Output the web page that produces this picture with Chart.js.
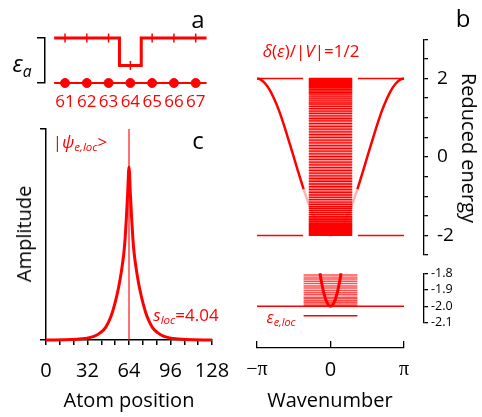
<!DOCTYPE html>
<html>
<head>
<meta charset="utf-8">
<script src="https://cdn.jsdelivr.net/npm/chart.js@4.4.0/dist/chart.umd.min.js"></script>
<style>
  html, body { margin: 0; padding: 0; background: #fff; }
  #fig { position: relative; width: 482px; height: 417px; overflow: hidden; font-family: 'Open Sans', sans-serif; }
  #fig canvas { position: absolute; }
  .lbl { position: absolute; transform: translate(-50%, -50%); white-space: nowrap; line-height: 1; color: #000; }
  .red { color: #f00; }
  .sub { font-size: 0.68em; position: relative; top: 0.3em; }
</style>
</head>
<body>
<div id="fig">
  <canvas id="ca" width="215" height="115" style="left:0;top:0"></canvas>
  <canvas id="cc" width="260" height="307" style="left:0;top:110px"></canvas>
  <canvas id="cb" width="242" height="280" style="left:240px;top:0"></canvas>
  <canvas id="cbi" width="242" height="80" style="left:240px;top:255px"></canvas>
  <canvas id="cbx" width="252" height="87" style="left:230px;top:330px"></canvas>

  <div class="lbl" style="left:198px;top:19px;font-size:24px">a</div>
  <div class="lbl" style="left:463px;top:18px;font-size:24px">b</div>
  <div class="lbl" style="left:198px;top:140px;font-size:24px">c</div>

  <div class="lbl" style="left:22px;top:63px;font-size:23px"><i>ε</i><i class="sub">a</i></div>
  <div class="lbl red" style="left:80px;top:141px;font-size:17px">|<i>ψ</i><i class="sub">e,loc</i>&gt;</div>
  <div class="lbl red" style="left:186px;top:314px;font-size:17px"><i>s</i><i class="sub">loc</i>=4.04</div>
  <div class="lbl red" style="left:311px;top:50px;font-size:17px"><i>δ</i>(<i>ε</i>)/|<i>V</i>|=1/2</div>
  <div class="lbl red" style="left:281px;top:317px;font-size:16px"><i>ε</i><i class="sub">e,loc</i></div>

  <div class="lbl" style="left:24px;top:234px;font-size:20px;transform:translate(-50%,-50%) rotate(-90deg)">Amplitude</div>
  <div class="lbl" style="left:129px;top:400px;font-size:20px">Atom position</div>
  <div class="lbl" style="left:469px;top:148px;font-size:20px;transform:translate(-50%,-50%) rotate(90deg)">Reduced energy</div>
  <div class="lbl" style="left:330px;top:400px;font-size:20px">Wavenumber</div>
</div>

<script>
// ---- panel a : site energies around the impurity
const sites = [61, 62, 63, 64, 65, 66, 67];
const siteEnergy = [1, 1, 1, 0.39, 1, 1, 1];

// ---- panel c : localized state amplitude
const atomPos   = [0, 20, 30, 37, 42, 46, 50, 53, 56, 58, 60, 61, 62, 63, 64, 65, 66, 67, 68, 70, 72, 75, 78, 82, 86, 91, 98, 108, 128];
const amplitude = [0, 0.002, 0.007, 0.017, 0.035, 0.06, 0.11, 0.17, 0.25, 0.32, 0.41, 0.48, 0.58, 0.70, 0.82, 0.70, 0.58, 0.48, 0.41, 0.32, 0.25, 0.17, 0.11, 0.06, 0.035, 0.017, 0.007, 0.002, 0];
const impuritySite = 64;
const atomLabels = [0, 32, 64, 96, 128];
const atomMinorStep = 32 / 3;

// ---- panel b : band dispersion and eigenvalue levels
const kBand = [-3.14, -3.0, -2.8, -2.6, -2.4, -2.2, -2.0, -1.8, -1.6, -1.4, -1.15, -1.0, -0.8, -0.6, -0.4, -0.2, 0,
               0.2, 0.4, 0.6, 0.8, 1.0, 1.15, 1.4, 1.6, 1.8, 2.0, 2.2, 2.4, 2.6, 2.8, 3.0, 3.14];
const eBand = [2.00, 1.98, 1.88, 1.71, 1.47, 1.18, 0.83, 0.45, 0.06, -0.34, -0.82, -1.08, -1.39, -1.65, -1.84, -1.96, -2.00,
               -1.96, -1.84, -1.65, -1.39, -1.08, -0.82, -0.34, 0.06, 0.45, 0.83, 1.18, 1.47, 1.71, 1.88, 1.98, 2.00];
const levelsMain = [2.00, 1.99, 1.98, 1.97, 1.96, 1.94, 1.92, 1.90, 1.88, 1.85, 1.82, 1.79, 1.76, 1.72, 1.68, 1.64,
  1.60, 1.55, 1.50, 1.45, 1.40, 1.35, 1.29, 1.23, 1.17, 1.11, 1.05, 0.98, 0.92, 0.85, 0.78, 0.71, 0.64, 0.57,
  0.50, 0.43, 0.36, 0.29, 0.22, 0.15, 0.08, 0.01, -0.06, -0.13, -0.20, -0.27, -0.34, -0.41, -0.48, -0.55, -0.62,
  -0.69, -0.76, -0.83, -0.90, -0.97, -1.03, -1.09, -1.15, -1.21, -1.27, -1.32, -1.37, -1.42, -1.47, -1.52, -1.56,
  -1.60, -1.64, -1.68, -1.71, -1.74, -1.77, -1.80, -1.83, -1.86, -1.88, -1.90, -1.92, -1.94, -1.96, -1.97, -1.98,
  -1.99, -2.00];
const levelsInset = [-1.81, -1.823, -1.835, -1.848, -1.862, -1.877, -1.889, -1.904, -1.918, -1.93, -1.945,
  -1.955, -1.966, -1.976, -1.986, -1.997];
const kPar = [-0.45, -0.4, -0.3, -0.2, -0.1, 0, 0.1, 0.2, 0.3, 0.4, 0.45];
const ePar = [-1.80, -1.842, -1.911, -1.960, -1.990, -2.0, -1.990, -1.960, -1.911, -1.842, -1.80];
const kRect = 0.93;        // half width (in k) of the level stack, main panel
const kRectInset = 1.15;   // half width of the level stack, inset
const kEdgeGap = 1.17;     // band-edge lines stop here
const bandEdges = [2, -2];
const eLoc = -2.058;
const energyTicks = [-2.5, -2, -1.5, -1, -0.5, 0, 0.5, 1, 1.5, 2, 2.5, 3];
const energyLabels = [-2, 0, 2];
const insetTicks = [-2.1, -2.0, -1.9, -1.8];
const kTicks = [-Math.PI, 0, Math.PI];
const kTickLabels = ['\u2212\u03c0', '0', '\u03c0'];

const RED = '#ff0000';

Chart.defaults.font.family = "'Open Sans', sans-serif";
Chart.defaults.color = '#000';
Chart.defaults.animation = false;
Chart.defaults.plugins.legend.display = false;
Chart.defaults.plugins.tooltip.enabled = false;
Chart.defaults.elements.point.radius = 0;

function fixWidth(w) { return s => { s.width = w; }; }
function fixHeight(h) { return s => { s.height = h; }; }
function setTicks(vals) { return s => { s.ticks = vals.map(v => ({ value: v })); }; }
function hLines(levels, k0, k1) {
  return levels.flatMap(e => [{ x: k0, y: e }, { x: k1, y: e }, { x: k1, y: null }]);
}

/* =========== panel a =========== */
const stepProfile = sites.flatMap((s, i) => [{ x: s - 0.5, y: siteEnergy[i] }, { x: s + 0.5, y: siteEnergy[i] }]);

new Chart(document.getElementById('ca'), {
  type: 'line',
  data: {
    datasets: [
      { data: sites.map((s, i) => ({ x: s, y: siteEnergy[i] })), showLine: false, pointStyle: 'line',
        rotation: 90, pointRadius: 4.5, borderColor: RED, borderWidth: 1.5, clip: false },
      { data: stepProfile, borderColor: RED, borderWidth: 3, clip: false },
      { data: sites.map(s => ({ x: s, y: 0 })), showLine: false, pointRadius: 4.5,
        backgroundColor: RED, borderColor: RED, clip: false },
      { data: [{ x: sites[0] - 0.5, y: 0 }, { x: sites[sites.length - 1] + 0.5, y: 0 }],
        borderColor: RED, borderWidth: 1.8, clip: false }
    ]
  },
  options: {
    responsive: false,
    layout: { padding: { top: 38, right: 8, left: 0, bottom: 0 } },
    scales: {
      x: {
        type: 'linear', min: 60.08, max: 67.52,
        afterBuildTicks: setTicks(sites), afterFit: fixHeight(32),
        ticks: { color: RED, font: { size: 17 }, padding: 9, autoSkip: false, maxRotation: 0 },
        grid: { display: false, drawTicks: false },
        border: { display: false }
      },
      y: {
        min: 0, max: 1,
        afterBuildTicks: setTicks([0, 1]), afterFit: fixWidth(45),
        ticks: { display: false },
        grid: { drawOnChartArea: false, tickLength: 8, color: '#000', lineWidth: 1.5 },
        border: { color: '#000', width: 1.5 }
      }
    }
  }
});

/* =========== panel c =========== */
const minorAtomTicks = [];
for (let i = 0; i * atomMinorStep <= 128 + 1e-6; i++) minorAtomTicks.push(i * atomMinorStep);

new Chart(document.getElementById('cc'), {
  type: 'line',
  data: {
    datasets: [
      { data: [{ x: impuritySite, y: 0 }, { x: impuritySite, y: 1 }],
        borderColor: 'rgba(255,0,0,0.75)', borderWidth: 1.5 },
      { data: atomPos.map((x, i) => ({ x: x, y: amplitude[i] })),
        borderColor: RED, borderWidth: 3, cubicInterpolationMode: 'monotone', clip: false }
    ]
  },
  options: {
    responsive: false,
    layout: { padding: { top: 19, right: 48, left: 0, bottom: 0 } },
    scales: {
      x: {
        type: 'linear', min: 0, max: 128,
        afterBuildTicks: setTicks(minorAtomTicks), afterFit: fixHeight(77),
        ticks: {
          callback: v => {
            const r = Math.round(v);
            return (Math.abs(v - r) < 1e-6 && atomLabels.includes(r)) ? String(r) : '';
          },
          font: { size: 20 }, padding: 14, autoSkip: false, maxRotation: 0, color: '#000'
        },
        grid: { drawOnChartArea: false, tickLength: 5, color: '#000', lineWidth: 1.5 },
        border: { color: '#000', width: 1.5 }
      },
      y: {
        min: 0, max: 1,
        afterBuildTicks: setTicks([0, 1]), afterFit: fixWidth(46),
        ticks: { display: false },
        grid: { drawOnChartArea: false, tickLength: 6, color: '#000', lineWidth: 1.5 },
        border: { color: '#000', width: 1.5 }
      }
    }
  }
});

/* =========== panel b (main) =========== */
const kMaxB = Math.PI + 20 * (2 * Math.PI) / 147;   // room between band and right axis

const edgeSegs = bandEdges.flatMap(e => [
  { x: -Math.PI, y: e }, { x: -kEdgeGap, y: e }, { x: -kEdgeGap, y: null },
  { x: kEdgeGap, y: e }, { x: Math.PI, y: e }, { x: Math.PI, y: null }
]);

new Chart(document.getElementById('cb'), {
  type: 'line',
  data: {
    datasets: [
      { data: hLines(levelsMain, -kRect, kRect), borderColor: RED, borderWidth: 1.3, spanGaps: false },
      { data: [{ x: -kRect, y: bandEdges[0] }, { x: kRect, y: bandEdges[0] }], borderWidth: 0,
        fill: { value: bandEdges[1] }, backgroundColor: 'rgba(255,0,0,0.42)' },
      { data: kBand.map((k, i) => ({ x: k, y: eBand[i] })), borderColor: RED, borderWidth: 2.5,
        cubicInterpolationMode: 'monotone',
        segment: {
          borderColor: c => Math.abs((c.p0.parsed.x + c.p1.parsed.x) / 2) < kRectInset ? 'rgba(255,0,0,0.3)' : RED
        } },
      { data: edgeSegs, borderColor: RED, borderWidth: 1.5, spanGaps: false }
    ]
  },
  options: {
    responsive: false,
    layout: { padding: { top: 39.3, right: 0, left: 17, bottom: 25 } },
    scales: {
      x: { type: 'linear', display: false, min: -Math.PI, max: kMaxB },
      y: {
        position: 'right', min: -2.5, max: 3,
        afterBuildTicks: setTicks(energyTicks), afterFit: fixWidth(58),
        ticks: { callback: v => energyLabels.includes(v) ? String(v) : '', font: { size: 19 },
                 padding: 9, crossAlign: 'near', color: '#000', autoSkip: false },
        grid: { drawOnChartArea: false, tickLength: 4, color: '#000', lineWidth: 1.3 },
        border: { color: '#000', width: 1.3 }
      }
    }
  }
});

/* =========== panel b (inset near band bottom) =========== */
new Chart(document.getElementById('cbi'), {
  type: 'line',
  data: {
    datasets: [
      { data: kPar.map((k, i) => ({ x: k, y: ePar[i] })), borderColor: RED, borderWidth: 3,
        cubicInterpolationMode: 'monotone', clip: false },
      { data: hLines(levelsInset, -kRectInset, kRectInset), borderColor: 'rgba(255,0,0,0.7)',
        borderWidth: 1.4, spanGaps: false, clip: false },
      { data: [{ x: -Math.PI, y: -2 }, { x: Math.PI, y: -2 }], borderColor: RED, borderWidth: 1.6, clip: false },
      { data: [{ x: -kRectInset, y: eLoc }, { x: kRectInset, y: eLoc }], borderColor: RED, borderWidth: 1.5, clip: false }
    ]
  },
  options: {
    responsive: false,
    layout: { padding: { top: 18.3, right: 0, left: 17, bottom: 12.3 } },
    scales: {
      x: { type: 'linear', display: false, min: -Math.PI, max: kMaxB },
      y: {
        position: 'right', min: -2.1, max: -1.8,
        afterBuildTicks: setTicks(insetTicks), afterFit: fixWidth(58),
        ticks: { callback: v => v.toFixed(1), font: { size: 12.5 }, padding: 3, color: '#000', autoSkip: false },
        grid: { drawOnChartArea: false, tickLength: 4, color: '#000', lineWidth: 1.3 },
        border: { color: '#000', width: 1.3 }
      }
    }
  }
});

/* =========== panel b (wavenumber axis) =========== */
new Chart(document.getElementById('cbx'), {
  type: 'line',
  data: { datasets: [] },
  options: {
    responsive: false,
    layout: { padding: { top: 11, right: 78, left: 27, bottom: 0 } },
    scales: {
      x: {
        type: 'linear', min: -Math.PI, max: Math.PI,
        afterBuildTicks: setTicks(kTicks), afterFit: fixHeight(69),
        ticks: {
          callback: (v, i) => kTickLabels[i],
          font: c => ({ size: 20, family: (c.tick && c.tick.value !== 0) ? "'Liberation Serif', serif" : "'Open Sans', sans-serif" }),
          padding: 10, autoSkip: false, maxRotation: 0, color: '#000'
        },
        grid: { drawOnChartArea: true, drawTicks: false, color: '#000', lineWidth: 1.3 },
        border: { color: '#000', width: 1.3 }
      },
      y: { display: false, min: 0, max: 1 }
    }
  }
});
</script>
</body>
</html>
